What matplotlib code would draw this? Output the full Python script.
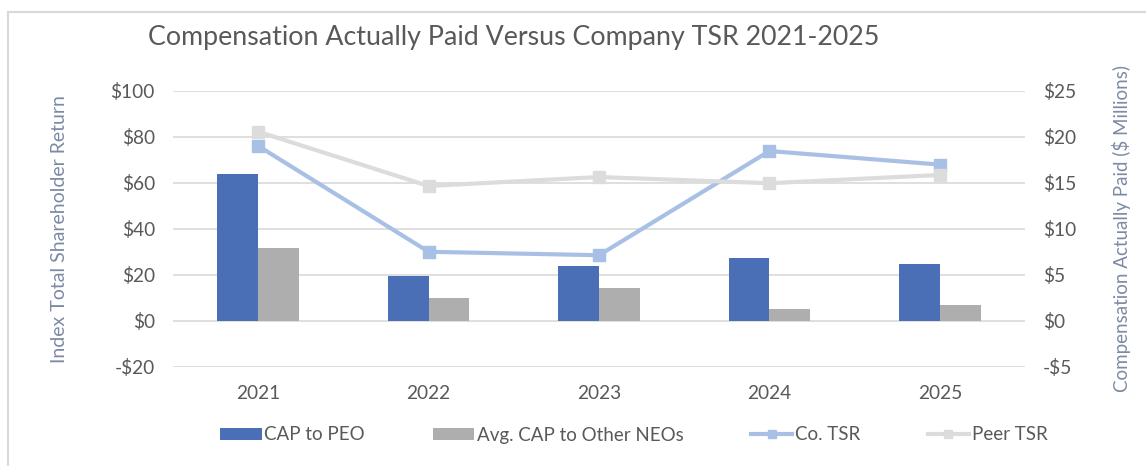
import matplotlib
matplotlib.use("Agg")
import matplotlib.pyplot as plt
import numpy as np
from matplotlib.lines import Line2D
from matplotlib.patches import Patch

years = ["2021", "2022", "2023", "2024", "2025"]
cap_peo = [15.95, 4.85, 6.0, 6.8, 6.2]          # $ millions (right axis)
cap_neo = [7.97, 2.5, 3.55, 1.35, 1.77]         # $ millions (right axis)
co_tsr = [76.1, 30.1, 28.6, 73.9, 68.0]         # index (left axis)
peer_tsr = [82.3, 58.7, 62.6, 59.9, 63.5]       # index (left axis)
left_ticks = [-20, 0, 20, 40, 60, 80, 100]
right_ticks = [-5, 0, 5, 10, 15, 20, 25]

FONT = "Lato"
plt.rcParams["font.family"] = [FONT, "DejaVu Sans"]
TXT = "#595959"
AXLBL = "#7C8AA5"
C_PEO = "#4A6FB7"
C_NEO = "#AEAEAE"
C_CO = "#A8BFE6"
C_PEER = "#DCDCDC"
TICK_FS = 13.8

W, H = 1146, 466
fig = plt.figure(figsize=(W / 100, H / 100), dpi=100)

ax = fig.add_axes([173 / W, 1 - 367 / H, (1025 - 173) / W, (367 - 91) / H])
ax2 = ax.twinx()

x = np.arange(len(years))
bw = 0.24
ax.bar(x - bw / 2, cap_peo, width=bw, color=C_PEO, zorder=2)
ax.bar(x + bw / 2, cap_neo, width=bw, color=C_NEO, zorder=2)
ax.set_ylim(-5, 25)
ax.set_xlim(-0.5, len(years) - 0.5)
ax.set_yticks(right_ticks)
ax.set_yticklabels([f"-${-v}" if v < 0 else f"${v}" for v in right_ticks])
ax.set_xticks(x)
ax.set_xticklabels(years)
ax.tick_params(axis="both", length=0, colors=TXT, labelsize=TICK_FS)
ax.tick_params(axis="x", pad=13)
ax.tick_params(axis="y", pad=13)
for s in ax.spines.values():
    s.set_visible(False)
for t in right_ticks:
    ax.axhline(t, color="#D9D9D9", lw=1.2, zorder=0)

ax2.plot(x, co_tsr, color=C_CO, lw=3, marker="s", ms=8, zorder=3)
ax2.plot(x, peer_tsr, color=C_PEER, lw=3, marker="s", ms=8, zorder=3)
ax2.set_ylim(-20, 100)
ax2.set_yticks(left_ticks)
ax2.set_yticklabels([f"-${-v}" if v < 0 else f"${v}" for v in left_ticks])
ax2.tick_params(axis="both", length=0, colors=TXT, labelsize=TICK_FS)
ax2.tick_params(axis="y", pad=13)
for s in ax2.spines.values():
    s.set_visible(False)

# bar (CAP) scale on the right, TSR scale on the left
ax.yaxis.tick_right()
ax.yaxis.set_label_position("right")
ax2.yaxis.tick_left()
ax2.yaxis.set_label_position("left")
ax.set_ylabel("Compensation Actually Paid ($ Millions)", color=AXLBL, fontsize=13.5, labelpad=26)
ax2.set_ylabel("Index Total Shareholder Return", color=AXLBL, fontsize=14, labelpad=31)

fig.text(148 / W, 1 - 37 / H, "Compensation Actually Paid Versus Company TSR 2021-2025",
         fontsize=19.3, color=TXT, ha="left", va="center")

handles = [
    Patch(facecolor=C_PEO, edgecolor="none"),
    Patch(facecolor=C_NEO, edgecolor="none"),
    Line2D([], [], color=C_CO, lw=3, marker="s", ms=6),
    Line2D([], [], color=C_PEER, lw=3, marker="s", ms=6),
]
labels = ["CAP to PEO", "Avg. CAP to Other NEOs", "Co. TSR", "Peer TSR"]
fig.legend(handles, labels, loc="center", bbox_to_anchor=(634 / W, 1 - 435 / H), ncol=4,
           frameon=False, fontsize=13.5, labelcolor=TXT, handlelength=2.2,
           handletextpad=0.15, columnspacing=3.6, handleheight=0.6)

fig.add_artist(Line2D([8 / W, 1], [1 - 11.5 / H, 1 - 11.5 / H], color="#D9D9D9", lw=1.5))
fig.add_artist(Line2D([8 / W, 8 / W], [0, 1 - 11.5 / H], color="#D9D9D9", lw=1.5))

fig.savefig("out.png", dpi=100)
